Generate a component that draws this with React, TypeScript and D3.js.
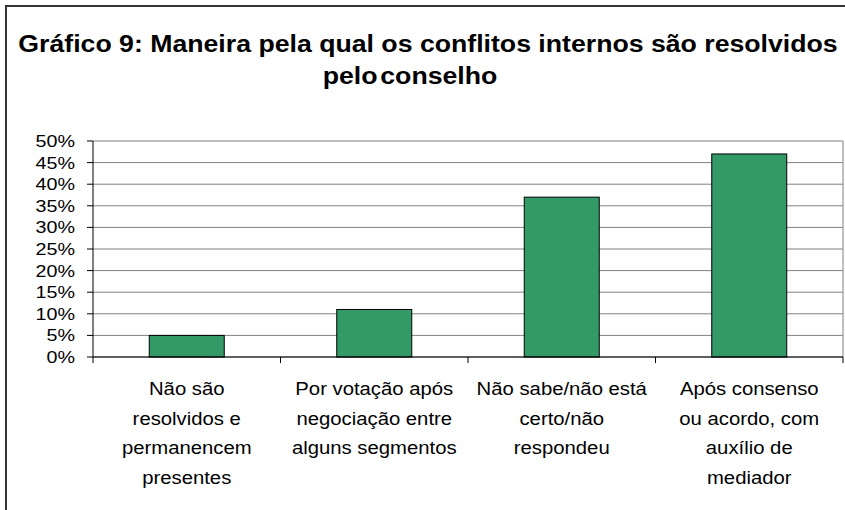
import React from "react";
import * as d3 from "d3";

const categories: string[][] = [
  ["Não são", "resolvidos e", "permanencem", "presentes"],
  ["Por votação após", "negociação entre", "alguns segmentos"],
  ["Não sabe/não está", "certo/não", "respondeu"],
  ["Após consenso", "ou acordo, com", "auxílio de", "mediador"],
];
const values: number[] = [5, 11, 37, 47];
const yTicks: number[] = [0, 5, 10, 15, 20, 25, 30, 35, 40, 45, 50];
const titleLines: string[] = [
  "Gráfico 9: Maneira pela qual os conflitos internos são resolvidos",
  "pelo conselho",
];

const W = 845;
const H = 510;
const plot = { left: 93, right: 843, top: 141, bottom: 357 };
const SX = 1.16;
const FONT = "'Liberation Sans', Arial, sans-serif";

export default function App() {
  const x = d3
    .scaleBand<number>()
    .domain(values.map((_, i) => i))
    .range([plot.left, plot.right])
    .paddingInner(0.6)
    .paddingOuter(0.3);
  const y = d3.scaleLinear().domain([0, 50]).range([plot.bottom, plot.top]);
  const step = (plot.right - plot.left) / values.length;
  const boundaries = d3.range(values.length + 1).map((i) => plot.left + i * step);

  const stretched = (
    tx: number,
    ty: number,
    text: string,
    size: number,
    anchor: string,
    weight: string = "normal",
    key?: string | number,
    extra: any = {}
  ) => (
    <text
      key={key}
      transform={`translate(${tx},${ty}) scale(${SX},1)`}
      fontFamily={FONT}
      fontSize={size}
      fontWeight={weight}
      textAnchor={anchor}
      fill="#000"
      {...extra}
    >
      {text}
    </text>
  );

  return (
    <svg
      width={W}
      height={H}
      style={{ position: "absolute", left: 0, top: 0, background: "#fff" }}
    >
      <rect x={0} y={0} width={W} height={H} fill="#fff" />
      {/* outer chart frame */}
      <rect x={6} y={6} width={W + 20} height={H + 20} fill="none" stroke="#333" strokeWidth={2} />

      {/* title */}
      {stretched(428, 52, titleLines[0], 23, "middle", "bold", "t0")}
      {stretched(410, 84, titleLines[1], 23, "middle", "bold", "t1", { wordSpacing: -4 })}

      {/* gridlines */}
      {yTicks.map((t) => (
        <line
          key={"g" + t}
          x1={plot.left}
          x2={plot.right}
          y1={y(t)}
          y2={y(t)}
          stroke="#808080"
          strokeWidth={1}
        />
      ))}
      {/* plot right border */}
      <line x1={plot.right} x2={plot.right} y1={plot.top} y2={plot.bottom} stroke="#808080" strokeWidth={1} />

      {/* bars */}
      {values.map((v, i) => (
        <rect
          key={"b" + i}
          x={x(i)!}
          y={y(v)}
          width={x.bandwidth()}
          height={y(0) - y(v)}
          fill="#339966"
          stroke="#000"
          strokeWidth={1}
        />
      ))}

      {/* y axis */}
      <line x1={plot.left} x2={plot.left} y1={plot.top} y2={plot.bottom} stroke="#000" strokeWidth={1} />
      {yTicks.map((t) => (
        <g key={"yt" + t}>
          <line x1={plot.left - 6} x2={plot.left} y1={y(t)} y2={y(t)} stroke="#000" strokeWidth={1} />
          {stretched(75, y(t) + 6, `${t}%`, 17, "end", "normal")}
        </g>
      ))}

      {/* x axis */}
      <line x1={plot.left} x2={plot.right} y1={plot.bottom} y2={plot.bottom} stroke="#000" strokeWidth={1} />
      {boundaries.map((bx, i) => (
        <line key={"xt" + i} x1={bx} x2={bx} y1={plot.bottom} y2={plot.bottom + 6} stroke="#000" strokeWidth={1} />
      ))}
      {categories.map((lines, i) =>
        lines.map((ln, j) =>
          stretched(
            x(i)! + x.bandwidth() / 2,
            395 + j * 29.6,
            ln,
            17.5,
            "middle",
            "normal",
            `xl${i}-${j}`
          )
        )
      )}
    </svg>
  );
}
